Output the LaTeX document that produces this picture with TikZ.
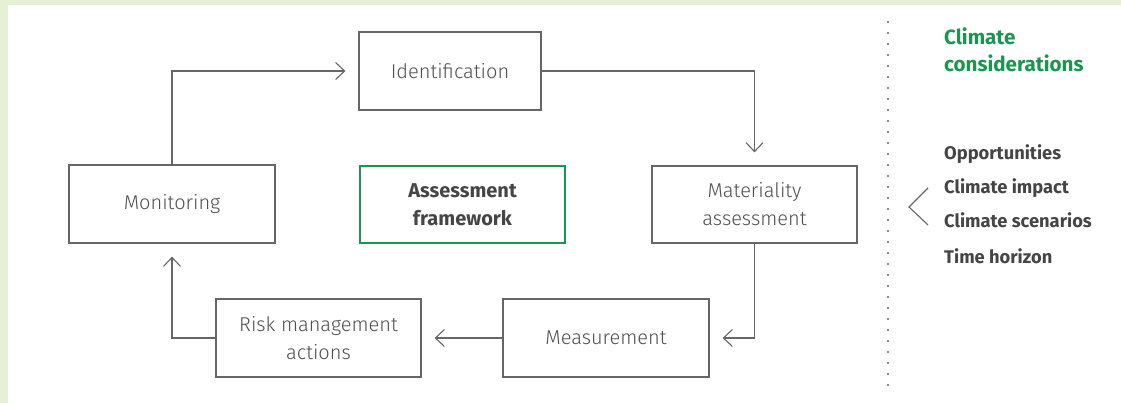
\documentclass[tikz,border=0pt]{standalone}
\usepackage{fontspec}
\setmainfont{Fira Sans}[UprightFont={* Light},BoldFont={* Bold}]
\usetikzlibrary{arrows.meta}
\definecolor{bggreen}{HTML}{E4F1D4}
\definecolor{boxgrey}{HTML}{666666}
\definecolor{txtgrey}{HTML}{4F4F4F}
\definecolor{boldgrey}{HTML}{454545}
\definecolor{fgreen}{HTML}{1A9650}
\tikzset{
  stepbox/.style={draw=boxgrey, line width=1.2pt, inner sep=0pt, align=center,
    text=txtgrey, font=\fontsize{20}{28}\selectfont},
  flow/.style={draw=boxgrey, line width=1.1pt,
    -{Straight Barb[length=9pt,width=17pt,line width=1.1pt]}, shorten >=13pt},
  sidetxt/.style={anchor=base west, inner sep=0pt, text=boldgrey,
    font=\fontsize{18.3}{20}\selectfont\bfseries},
  titletxt/.style={anchor=base west, inner sep=0pt, text=fgreen,
    font=\fontsize{20.6}{27}\selectfont\bfseries},
}
\begin{document}
\begin{tikzpicture}[x=1pt,y=-1pt]
\useasboundingbox (0,0) rectangle (1121,403);
\fill[bggreen] (0,0) rectangle (1121,403);
\fill[white] (8,5) rectangle (1121,403);
\node[stepbox, minimum width=182pt, minimum height=78pt] (ident) at (450,71) {Identification};
\node[stepbox, minimum width=206pt, minimum height=78pt] (monit) at (172,204) {Monitoring};
\node[stepbox, draw=fgreen, line width=2pt, text=boldgrey, font=\fontsize{20}{28}\selectfont\bfseries,
  minimum width=205pt, minimum height=77pt] (frame) at (462.5,205) {Assessment\\framework};
\node[stepbox, minimum width=205pt, minimum height=77pt] (mater) at (754.5,204.5) {Materiality\\assessment};
\node[stepbox, minimum width=206pt, minimum height=78pt] (meas) at (606,338) {Measurement};
\node[stepbox, minimum width=205pt, minimum height=78pt] (risk) at (318.5,338) {Risk management\\actions};
\draw[flow] (monit.north) |- (ident.west);
\draw[flow] (ident.east) -| (mater.north);
\draw[flow] (mater.south) |- (meas.east);
\draw[flow] (meas.west) -- (risk.east);
\draw[flow] (risk.west) -| (monit.south);
\coordinate (dtop) at (888,22);
\coordinate (dbot) at (888,396);
\draw[boxgrey, line width=2.4pt, line cap=round, dash pattern=on 0pt off 11pt] (dtop) -- (dbot);
\coordinate (chA) at (928,188);
\coordinate (chT) at (909,207);
\coordinate (chB) at (928,225);
\draw[boxgrey, line width=1.1pt] (chA) -- (chT) -- (chB);
\node[titletxt] (t1) at (944,45) {Climate};
\node[titletxt] (t2) at (944,72) {considerations};
\node[sidetxt] (s1) at (944,160) {Opportunities};
\node[sidetxt] (s2) at (944,194) {Climate impact};
\node[sidetxt] (s3) at (944,228) {Climate scenarios};
\node[sidetxt] (s4) at (944,263) {Time horizon};
\end{tikzpicture}
\end{document}
